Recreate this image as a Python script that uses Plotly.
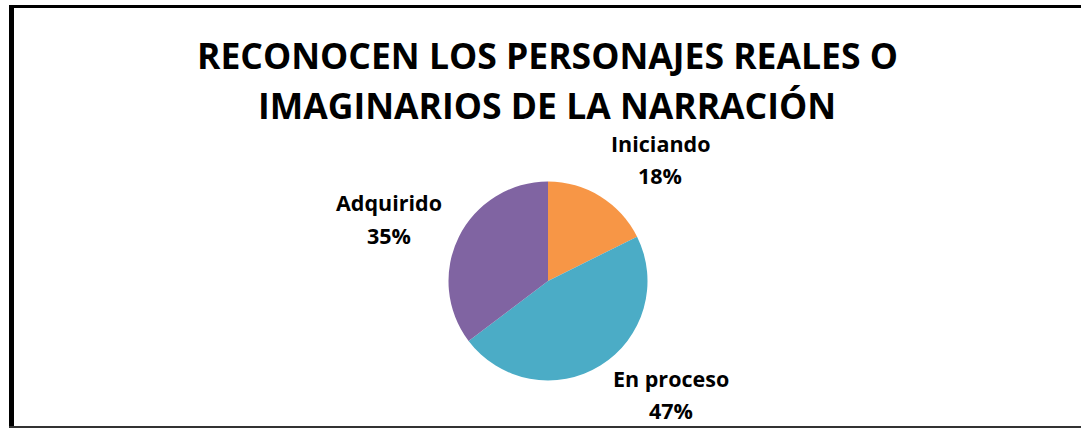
import plotly.graph_objects as go

# chart data
categories = ['Iniciando', 'En proceso', 'Adquirido']
counts = [3, 8, 6]
slice_colors = ['#F79646', '#4BACC6', '#8064A2']
title_lines = ['RECONOCEN LOS PERSONAJES REALES O', 'IMAGINARIOS DE LA NARRACIÓN']

W, H = 1081, 428
FONT = 'Open Sans'

# where the pie sits (pixels) and where each outside label goes
pie_cx, pie_cy, pie_r = 548, 281, 99.5
label_pos = [(660, 143, 175), (671, 378, 410), (389, 202, 235)]
title_pos = [(547, 55), (547, 105)]


def px(x):
    return x / W


def py(y):
    return 1 - y / H


fig = go.Figure()
fig.add_trace(go.Pie(
    labels=categories,
    values=counts,
    sort=False,
    direction='clockwise',
    rotation=0,
    marker=dict(colors=slice_colors, line=dict(width=0)),
    textinfo='none',
    hoverinfo='label+percent',
    showlegend=False,
    domain=dict(x=[px(pie_cx - pie_r), px(pie_cx + pie_r)],
                y=[py(pie_cy + pie_r), py(pie_cy - pie_r)]),
))

annotations = []
for (x, y), line in zip(title_pos, title_lines):
    annotations.append(dict(
        x=px(x), y=py(y), xref='paper', yref='paper', text='<b>%s</b>' % line,
        showarrow=False, xanchor='center', yanchor='middle',
        font=dict(family=FONT, size=35.5, color='#000000')))

total = sum(counts)
for name, v, (x, y1, y2) in zip(categories, counts, label_pos):
    pct = '%d%%' % round(100 * v / total)
    for txt, y in ((name, y1), (pct, y2)):
        annotations.append(dict(
            x=px(x), y=py(y), xref='paper', yref='paper', text='<b>%s</b>' % txt,
            showarrow=False, xanchor='center', yanchor='middle',
            font=dict(family=FONT, size=21.5, color='#000000')))

# chart frame: left, top and bottom edges (right edge is cut off)
shapes = [
    dict(type='line', xref='paper', yref='paper', x0=px(11.5), x1=px(11.5),
         y0=py(5), y1=py(428), line=dict(color='#000000', width=5)),
    dict(type='line', xref='paper', yref='paper', x0=px(9), x1=px(1081),
         y0=py(6.5), y1=py(6.5), line=dict(color='#000000', width=3)),
    dict(type='line', xref='paper', yref='paper', x0=px(9), x1=px(1081),
         y0=py(427), y1=py(427), line=dict(color='#333333', width=2)),
]

fig.update_layout(
    width=W, height=H,
    margin=dict(l=0, r=0, t=0, b=0),
    paper_bgcolor='white',
    plot_bgcolor='white',
    annotations=annotations,
    shapes=shapes,
)

# drop the page's default body margin so the figure fills the window
fig.write_html('out.html', config={'displayModeBar': False},
               post_script="document.body.style.margin='0';")
